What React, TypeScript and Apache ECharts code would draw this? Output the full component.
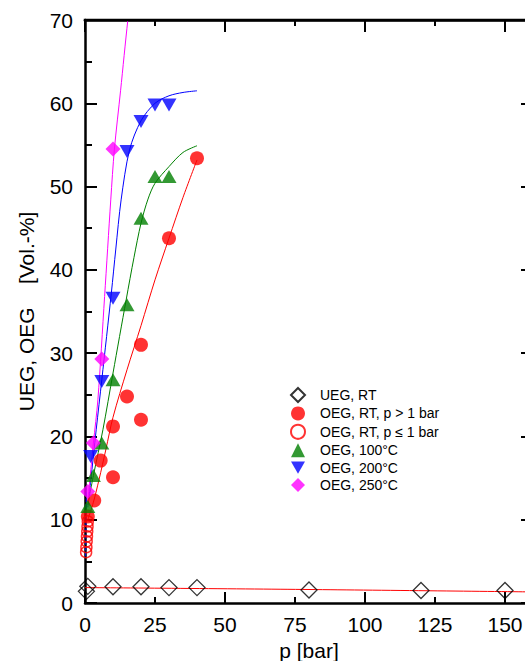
import React, { useEffect, useRef } from "react";
import * as echarts from "echarts";

// ---- data ----
const uegRT: number[][] = [[0.5, 1.4], [1, 2.0], [10, 1.95], [20, 1.95], [30, 1.85], [40, 1.85], [80, 1.56], [120, 1.5], [150, 1.5]];
const oegRTgt1: number[][] = [[1, 10.4], [3.3, 12.3], [5.6, 17.1], [10, 15.1], [10, 21.2], [15, 24.8], [20, 22.0], [20, 31.0], [30, 43.8], [40, 53.4]];
const oegRTle1: number[][] = [[1, 9.8], [0.9, 9.2], [0.8, 8.6], [0.7, 8.0], [0.6, 7.4], [0.5, 6.7], [0.4, 6.1]];
const oeg100: number[][] = [[1, 11.6], [3, 15.3], [6, 19.2], [10, 26.8], [15, 35.8], [20, 46.2], [25, 51.2], [30, 51.2]];
const oeg200: number[][] = [[2, 17.6], [6, 26.6], [10, 36.6], [15, 54.2], [20, 57.8], [25, 59.8], [30, 59.8]];
const oeg250: number[][] = [[1, 13.4], [3, 19.2], [6, 29.3], [10, 54.5]];

// fitted curves
const fitUEG: number[][] = [[0, 1.85], [80, 1.62], [160, 1.33]];
const fitRT: number[][] = [[1, 10], [3, 12.1], [5, 14.8], [7.5, 18.5], [10, 22.3], [15, 28], [20, 33.3], [25, 38.8], [30, 43.8], [35, 48.7], [40, 53.2]];
const fit100: number[][] = [[1, 11.8], [3, 15.3], [6.4, 20.8], [10, 27.6], [14.7, 36.4], [17.5, 41.5], [20, 45.6], [22.5, 48.5], [25, 50.4], [30, 52.4], [35, 54.1], [40, 54.9]];
const fit200: number[][] = [[1, 11.5], [2, 14.5], [4, 20.8], [6, 26.8], [9.4, 37.2], [11, 42.5], [12.9, 48.4], [15.9, 54.4], [20, 57.9], [25, 60], [30, 60.9], [35, 61.3], [40, 61.5]];
const fit250: number[][] = [[1, 12.2], [3, 19.2], [4.6, 24.4], [7, 36.8], [9.2, 48.4], [10.5, 54.5], [12.7, 61.5], [15.3, 70], [16.5, 73]];
const fit200low: number[][] = [[0.2, 5.6], [0.5, 13.8]];

const legendNames = ["UEG, RT", "OEG, RT, p > 1 bar", "OEG, RT, p ≤ 1 bar", "OEG, 100°C", "OEG, 200°C", "OEG, 250°C"];

const xMin = 0;
const xMax = 160;
const xLastLabel = 150;
const yMin = 0;
const yMax = 70;

const FONT = "'Liberation Sans', Arial, sans-serif";
const DOWN_TRIANGLE = "path://M0,0L20,0L10,17.3Z";

export default function App() {
  const ref = useRef<HTMLDivElement>(null);
  useEffect(() => {
    if (!ref.current) return;
    const chart = echarts.init(ref.current, undefined, { renderer: "svg" });
    const axisLineStyle = () => ({ color: "#000", width: 2.5 });
    const baseX = {
      type: "value",
      min: xMin,
      max: xMax,
      splitLine: { show: false },
    };
    const fitLine = (name: string, data: number[][], color: string, dashed = false) => ({
      name,
      type: "line",
      data,
      smooth: 0.3,
      symbol: "none",
      silent: true,
      lineStyle: { color, width: 1, type: dashed ? "dashed" : "solid" },
      z: 1,
    });
    const tick = (len: number) => ({ show: true, inside: true, length: len, lineStyle: { color: "#000", width: 2 } });
    const minor = (len: number) => ({ show: true, splitNumber: 2, length: len, lineStyle: { color: "#000", width: 2 } });
    chart.setOption({
      animation: false,
      backgroundColor: "#fff",
      textStyle: { fontFamily: FONT },
      grid: {
        left: 85,
        top: 20,
        right: 0,
        bottom: 58,
        containLabel: false,
        outerBoundsMode: "none",
      },
      legend: {
        data: legendNames,
        orient: "vertical",
        left: 290,
        top: 387,
        itemWidth: 14,
        itemHeight: 14,
        itemGap: 3.4,
        padding: 0,
        formatter: (n: string) => `{t|${n}}`,
        textStyle: {
          color: "#000",
          fontFamily: FONT,
          fontSize: 14,
          rich: { t: { padding: [0, 0, 0, 10], fontSize: 14, fontFamily: FONT, color: "#000", lineHeight: 14 } },
        },
      },
      xAxis: [
        {
          ...baseX,
          position: "bottom",
          interval: 25,
          name: "p [bar]",
          nameLocation: "middle",
          nameGap: 32,
          nameTextStyle: { fontSize: 21, color: "#000", fontFamily: FONT },
          axisLine: { show: true, onZero: false, lineStyle: axisLineStyle() },
          axisTick: tick(6),
          axisLabel: {
            show: true,
            fontSize: 21,
            color: "#000",
            margin: 11,
            fontFamily: FONT,
            formatter: (v: number) => (v > xLastLabel ? "" : String(v)),
          },
        },
        {
          ...baseX,
          position: "top",
          interval: 50,
          axisLine: { show: true, onZero: false, lineStyle: axisLineStyle() },
          axisTick: tick(12),
          minorTick: minor(6),
          axisLabel: { show: false },
        },
        {
          ...baseX,
          position: "bottom",
          interval: 50,
          axisLine: { show: false, onZero: false },
          axisTick: tick(11),
          axisLabel: { show: false },
        },
      ],
      yAxis: [
        {
          type: "value",
          position: "left",
          min: yMin,
          max: yMax,
          interval: 10,
          name: "UEG, OEG    [Vol.-%]",
          nameLocation: "middle",
          nameGap: 48,
          nameTextStyle: { fontSize: 21, color: "#000", fontFamily: FONT },
          splitLine: { show: false },
          axisLine: { show: true, onZero: false, lineStyle: axisLineStyle() },
          axisTick: tick(12),
          minorTick: minor(7),
          axisLabel: { show: true, fontSize: 21, color: "#000", margin: 12, fontFamily: FONT },
        },
        {
          type: "value",
          position: "right",
          min: yMin,
          max: yMax,
          interval: 10,
          splitLine: { show: false },
          axisLine: { show: true, onZero: false, lineStyle: axisLineStyle() },
          axisTick: tick(12),
          minorTick: minor(7),
          axisLabel: { show: false },
        },
      ],
      series: [
        fitLine("fitUEG", fitUEG, "#ff0000"),
        fitLine("fitRT", fitRT, "#ff0000"),
        fitLine("fit100", fit100, "#008000"),
        fitLine("fit200", fit200, "#0000ff"),
        fitLine("fit200low", fit200low, "#0000ff", true),
        fitLine("fit250", fit250, "#ff00ff"),
        {
          name: legendNames[0],
          type: "scatter",
          data: uegRT,
          symbol: "diamond",
          symbolSize: 16,
          itemStyle: { color: "transparent", borderColor: "#000", borderWidth: 1.3 },
          z: 3,
        },
        {
          name: legendNames[2],
          type: "scatter",
          data: oegRTle1,
          symbol: "circle",
          symbolSize: 11,
          itemStyle: { color: "transparent", borderColor: "#ff0000", borderWidth: 1.5 },
          z: 3,
        },
        {
          name: legendNames[1],
          type: "scatter",
          data: oegRTgt1,
          symbol: "circle",
          symbolSize: 14,
          itemStyle: { color: "#ff0000" },
          z: 3,
        },
        {
          name: legendNames[3],
          type: "scatter",
          data: oeg100,
          symbol: "triangle",
          symbolSize: [15, 13],
          itemStyle: { color: "#008000" },
          z: 3,
        },
        {
          name: legendNames[4],
          type: "scatter",
          data: oeg200,
          symbol: DOWN_TRIANGLE,
          symbolSize: [15, 13],
          itemStyle: { color: "#0000ff" },
          z: 3,
        },
        {
          name: legendNames[5],
          type: "scatter",
          data: oeg250,
          symbol: "diamond",
          symbolSize: 15,
          itemStyle: { color: "#ff00ff" },
          z: 3,
        },
      ],
    });

    // top frame line, placed through the chart's own scales
    const px = (v: number) => Number(chart.convertToPixel({ xAxisIndex: 0 }, v));
    const topY = Number(chart.convertToPixel({ yAxisIndex: 0 }, yMax));
    chart.setOption({
      graphic: [
        {
          type: "line",
          z: 100,
          silent: true,
          shape: { x1: px(xMin) - 1.25, y1: topY, x2: px(xMax) + 2, y2: topY },
          style: { stroke: "#000", lineWidth: 2.5 },
        },
      ],
    });
    return () => chart.dispose();
  }, []);
  return (
    <div style={{ position: "fixed", left: 0, top: 0, width: 525, height: 661, overflow: "hidden", background: "#fff" }}>
      <div ref={ref} style={{ position: "absolute", left: 0, top: 0, width: 533, height: 661 }} />
    </div>
  );
}
